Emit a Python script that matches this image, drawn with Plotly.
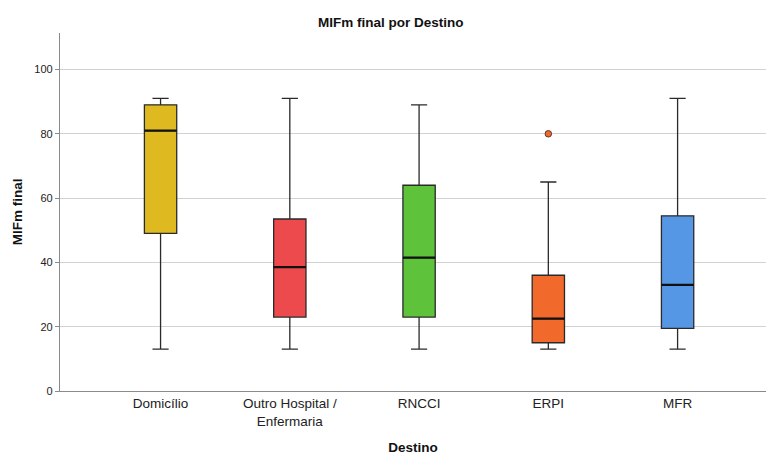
import plotly.graph_objects as go

# Five-number summaries of MIFm final by discharge destination
destinos = ["Domicílio", "Outro Hospital /<br>Enfermaria", "RNCCI", "ERPI", "MFR"]
minimo = [13, 13, 13, 13, 13]
q1 = [49, 23, 23, 15, 19.5]
mediana = [81, 38.5, 41.5, 22.5, 33]
q3 = [89, 53.5, 64, 36, 54.5]
maximo = [91, 91, 89, 65, 91]
cores = ["#DEBA20", "#EC4A4C", "#5EC23A", "#F2692C", "#5597E4"]

# Outlying observations
outlier_destino = [3]
outlier_valor = [80]

BOX_W = 0.25
fig = go.Figure()
for i in range(len(destinos)):
    fig.add_trace(go.Box(
        x=[i], q1=[q1[i]], median=[mediana[i]], q3=[q3[i]],
        lowerfence=[minimo[i]], upperfence=[maximo[i]],
        width=BOX_W, whiskerwidth=0.5,
        fillcolor=cores[i],
        line=dict(color="#2a2a2a", width=1.3),
        boxpoints=False, showlegend=False, hoverinfo="skip",
    ))
    # thicker median line
    fig.add_shape(type="line", xref="x", yref="y",
                  x0=i - BOX_W / 2, x1=i + BOX_W / 2,
                  y0=mediana[i], y1=mediana[i],
                  line=dict(color="#111111", width=2.2))

fig.add_trace(go.Scatter(
    x=outlier_destino, y=outlier_valor, mode="markers",
    marker=dict(size=6.5, color=cores[3], line=dict(color="#5a3a2a", width=1)),
    showlegend=False, hoverinfo="skip",
))

font_family = "Arial, Liberation Sans, sans-serif"
fig.update_layout(
    width=766, height=455,
    margin=dict(l=60, r=0, t=33, b=64),
    paper_bgcolor="white", plot_bgcolor="white",
    font=dict(family=font_family, color="#222222"),
    title=dict(text="<b>MIFm final por Destino</b>", x=0.51, xanchor="center",
               y=1 - 22 / 455, yanchor="middle",
               font=dict(size=13.5, color="#111111")),
    xaxis=dict(
        tickmode="array", tickvals=list(range(len(destinos))), ticktext=destinos,
        range=[-0.778, 4.684], automargin=False,
        showline=True, linecolor="#8a8a8a", linewidth=1.3,
        showgrid=False, zeroline=False, ticks="",
        tickfont=dict(size=13.5, color="#222222"),
        title=dict(text="<b>Destino</b>", font=dict(size=13.5, color="#111111"), standoff=21),
    ),
    yaxis=dict(
        range=[0, 111.35], tickvals=[0, 20, 40, 60, 80, 100],
        showline=True, linecolor="#8a8a8a", linewidth=1.3,
        showgrid=True, gridcolor="#d2d2d2", gridwidth=1,
        zeroline=False, ticks="outside", ticklen=4, tickcolor="#8a8a8a",
        tickfont=dict(size=11, color="#222222"),
        title=dict(text="<b>MIFm final</b>", font=dict(size=13.5, color="#111111"), standoff=8),
    ),
)

fig.write_html("out.html")
